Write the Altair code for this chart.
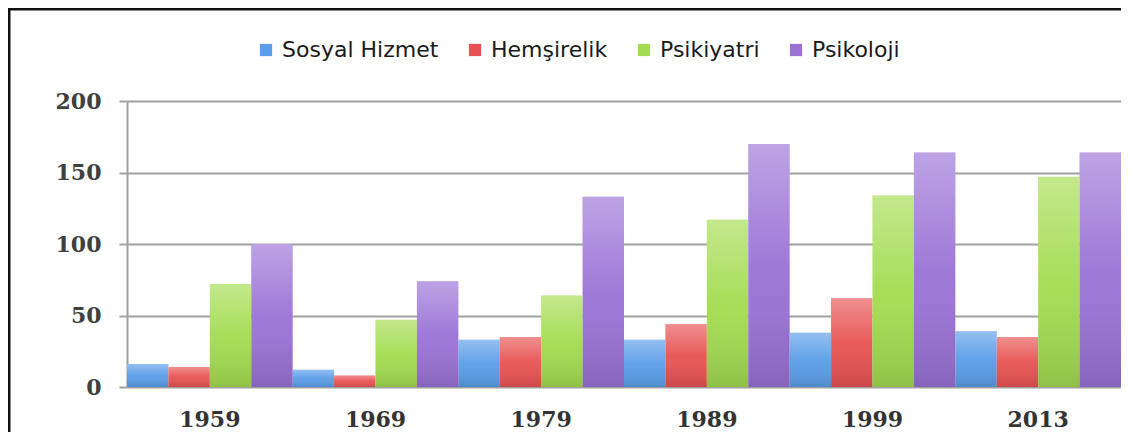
import altair as alt
import pandas as pd

years = ["1959", "1969", "1979", "1989", "1999", "2013"]
series = ["Sosyal Hizmet", "Hemşirelik", "Psikiyatri", "Psikoloji"]
sosyal = [16, 12, 33, 33, 38, 39]
hemsirelik = [14, 8, 35, 44, 62, 35]
psikiyatri = [72, 47, 64, 117, 134, 147]
psikoloji = [100, 74, 133, 170, 164, 164]
colors = ["#5a9de8", "#e85252", "#a3dc50", "#9a72d6"]
y_ticks = [0, 50, 100, 150, 200]

rows = []
for name, vals in zip(series, [sosyal, hemsirelik, psikiyatri, psikoloji]):
    for yr, v in zip(years, vals):
        rows.append({"Yıl": yr, "Alan": name, "Değer": v})
df = pd.DataFrame(rows)

x_enc = alt.X("Yıl:N", sort=years,
              scale=alt.Scale(paddingInner=0, paddingOuter=0),
              axis=alt.Axis(title=None, labelAngle=0, ticks=False, domain=False,
                            labelFont="DejaVu Serif", labelFontWeight="bold",
                            labelFontSize=22, labelColor="#333333", labelPadding=22))
xo_enc = alt.XOffset("Alan:N", sort=series, scale=alt.Scale(paddingInner=0, paddingOuter=0))
y_enc = alt.Y("Değer:Q",
              scale=alt.Scale(domain=[0, 200]),
              axis=alt.Axis(title=None, values=y_ticks, grid=True, gridColor="#a0a0a0",
                            gridWidth=2, domain=True, domainColor="#a0a0a0", domainWidth=2,
                            tickColor="#a0a0a0", tickWidth=2, tickSize=8,
                            labelFont="DejaVu Serif", labelFontWeight="bold",
                            labelFontSize=22, labelColor="#404040", labelPadding=18))

bars = alt.Chart(df).mark_bar(strokeWidth=0).encode(
    x=x_enc, xOffset=xo_enc, y=y_enc,
    color=alt.Color("Alan:N", sort=series,
                    scale=alt.Scale(domain=series, range=colors),
                    legend=alt.Legend(title=None, orient="none", direction="horizontal",
                                      columns=4, legendX=128, legendY=-62,
                                      symbolType="square", symbolSize=150,
                                      symbolStrokeWidth=0, labelFont="DejaVu Sans",
                                      labelFontSize=22, labelColor="#1a1a1a",
                                      labelOffset=5, columnPadding=25))
)

shade = alt.Chart(df).mark_bar(
    strokeWidth=0,
    fill={"gradient": "linear", "x1": 0, "y1": 0, "x2": 0, "y2": 1,
          "stops": [{"offset": 0, "color": "rgba(255,255,255,0.35)"},
                    {"offset": 0.5, "color": "rgba(255,255,255,0.05)"},
                    {"offset": 1, "color": "rgba(0,0,0,0.12)"}]}
).encode(x=x_enc, xOffset=xo_enc, y=y_enc)

frame_data = alt.Data(values=[{"k": 1}])
left_border = alt.Chart(frame_data).mark_rule(color="#111111", strokeWidth=3).encode(
    x=alt.value(-118), y=alt.value(-93), y2=alt.value(340))
top_border = alt.Chart(frame_data).mark_rule(color="#111111", strokeWidth=3).encode(
    x=alt.value(-118), x2=alt.value(1000), y=alt.value(-92))

chart = alt.layer(bars, shade, left_border, top_border).properties(
    width=994, height=286,
    padding={"left": 119, "top": 93, "right": 0, "bottom": 45},
    autosize=alt.AutoSizeParams(type="none"),
    background="white",
).configure_view(stroke=None)

chart.save("out.html", embed_options={"renderer": "svg", "actions": False})
